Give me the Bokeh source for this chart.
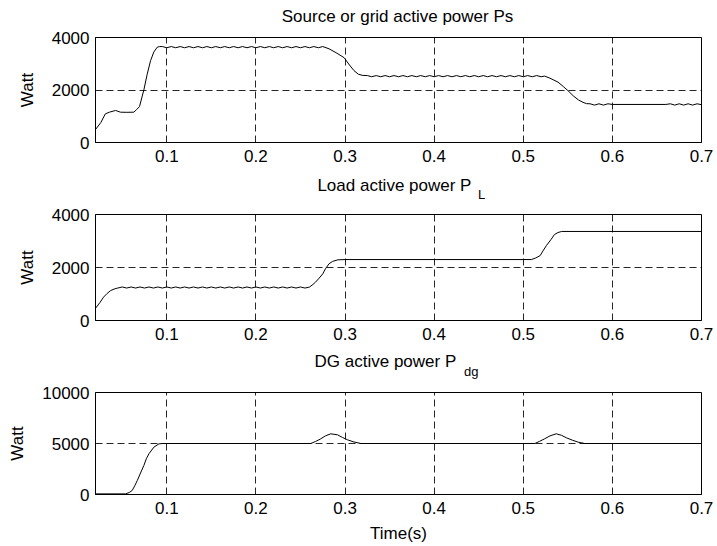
from bokeh.plotting import figure
from bokeh.layouts import column
from bokeh.models import Label, Range1d, FixedTicker
from bokeh.embed import file_html
from bokeh.resources import INLINE

# ---------------- data ----------------
x_ticks = [0.1, 0.2, 0.3, 0.4, 0.5, 0.6, 0.7]

ps_time = [0.020, 0.026, 0.031, 0.036, 0.0425, 0.048, 0.055, 0.063, 0.066, 0.0694, 0.0743, 0.078, 0.0818, 0.0855, 0.0893, 0.092,
           0.095, 0.100, 0.105, 0.110, 0.115, 0.120, 0.125, 0.130, 0.135, 0.140,
           0.145, 0.150, 0.155, 0.160, 0.165, 0.170, 0.175, 0.180, 0.185, 0.190,
           0.195, 0.200, 0.205, 0.210, 0.215, 0.220, 0.225, 0.230, 0.235, 0.240,
           0.245, 0.250, 0.255, 0.260, 0.265, 0.270, 0.275,
           0.282, 0.290, 0.299, 0.305, 0.310, 0.315, 0.320,
           0.325, 0.330, 0.335, 0.340, 0.345, 0.350, 0.355, 0.360, 0.365, 0.370,
           0.375, 0.380, 0.385, 0.390, 0.395, 0.400, 0.405, 0.410, 0.415, 0.420,
           0.425, 0.430, 0.435, 0.440, 0.445, 0.450, 0.455, 0.460, 0.465, 0.470,
           0.475, 0.480, 0.485, 0.490, 0.495, 0.500, 0.505, 0.510, 0.515, 0.520,
           0.524, 0.530, 0.539, 0.545, 0.550, 0.556, 0.562, 0.567, 0.571,
           0.575, 0.580, 0.585, 0.590, 0.595, 0.600,
           0.660,
           0.665, 0.670, 0.675, 0.680, 0.685, 0.690, 0.695, 0.700]
ps_watt = [495, 760, 1090, 1160, 1220, 1155, 1150, 1155, 1250, 1370, 2010, 2600, 3120, 3450, 3630, 3655,
           3655, 3610, 3655, 3610, 3655, 3610, 3655, 3610, 3655, 3610,
           3655, 3610, 3655, 3610, 3655, 3610, 3655, 3610, 3655, 3610,
           3655, 3610, 3655, 3610, 3655, 3610, 3655, 3610, 3655, 3610,
           3655, 3610, 3655, 3610, 3655, 3610, 3655,
           3570, 3420, 3230, 2950, 2740, 2600, 2555,
           2550, 2505, 2550, 2505, 2550, 2505, 2550, 2505, 2550, 2505,
           2550, 2505, 2550, 2505, 2550, 2505, 2550, 2505, 2550, 2505,
           2550, 2505, 2550, 2505, 2550, 2505, 2550, 2505, 2550, 2505,
           2550, 2505, 2550, 2505, 2550, 2505, 2550, 2505, 2550, 2505,
           2530, 2450, 2300, 2130, 1980, 1780, 1620, 1530, 1480,
           1475, 1425, 1475, 1425, 1475, 1450,
           1450,
           1475, 1425, 1475, 1425, 1475, 1425, 1475, 1440]

pl_time = [0.020, 0.025, 0.029, 0.033, 0.037, 0.042,
           0.045, 0.050, 0.055, 0.060, 0.065, 0.070, 0.075, 0.080, 0.085, 0.090,
           0.095, 0.100, 0.105, 0.110, 0.115, 0.120, 0.125, 0.130, 0.135, 0.140,
           0.145, 0.150, 0.155, 0.160, 0.165, 0.170, 0.175, 0.180, 0.185, 0.190,
           0.195, 0.200, 0.205, 0.210, 0.215, 0.220, 0.225, 0.230, 0.235, 0.240,
           0.245, 0.250, 0.255,
           0.260, 0.264, 0.267, 0.271, 0.275, 0.278, 0.282, 0.286, 0.292, 0.300,
           0.509, 0.514, 0.519, 0.522, 0.526, 0.531, 0.535, 0.539, 0.543, 0.700]
pl_watt = [460, 680, 880, 1020, 1130, 1200,
           1225, 1265, 1225, 1265, 1225, 1265, 1225, 1265, 1225, 1265,
           1225, 1265, 1225, 1265, 1225, 1265, 1225, 1265, 1225, 1265,
           1225, 1265, 1225, 1265, 1225, 1265, 1225, 1265, 1225, 1265,
           1225, 1265, 1225, 1265, 1225, 1265, 1225, 1265, 1225, 1265,
           1225, 1265, 1225,
           1260, 1360, 1450, 1600, 1760, 1950, 2140, 2230, 2290, 2300,
           2300, 2360, 2450, 2620, 2830, 3050, 3245, 3320, 3360, 3360]

pdg_time = [0.020, 0.0537, 0.058, 0.0612, 0.064, 0.0669, 0.071, 0.0743, 0.077, 0.080, 0.0855, 0.0911, 0.095,
            0.2616, 0.267, 0.2728, 0.278, 0.284, 0.2916, 0.297, 0.3028, 0.310, 0.3178,
            0.513, 0.518, 0.524, 0.530, 0.537, 0.543, 0.5484, 0.555, 0.5616, 0.569, 0.700]
pdg_watt = [60, 60, 200, 400, 850, 1370, 2200, 2850, 3500, 4000, 4640, 4960, 5000,
            5000, 5200, 5460, 5750, 5950, 5850, 5600, 5360, 5150, 5000,
            5000, 5200, 5460, 5750, 5950, 5800, 5560, 5330, 5130, 5000, 5000]

FONT = "Liberation Sans"
FS = "17px"
X0, X1 = 0.02, 0.7
W = 717
BL, BR = 95, 16


def make_panel(time, watt, ymax, yticks, height, top, bottom):
    p = figure(width=W, height=height, output_backend="svg", toolbar_location=None,
               x_range=Range1d(X0, X1), y_range=Range1d(0, ymax),
               min_border_left=BL, min_border_right=BR,
               min_border_top=top, min_border_bottom=bottom)
    p.line(time, watt, line_color="black", line_width=1)
    p.xaxis.ticker = FixedTicker(ticks=x_ticks)
    p.yaxis.ticker = FixedTicker(ticks=yticks)
    for ax in (p.xaxis[0], p.yaxis[0]):
        ax.major_tick_in = 0
        ax.major_tick_out = 0
        ax.minor_tick_line_color = None
        ax.axis_line_color = "black"
        ax.major_label_text_font = FONT
        ax.major_label_text_font_size = FS
        ax.major_label_text_color = "black"
        ax.axis_label_text_font = FONT
        ax.axis_label_text_font_size = FS
        ax.axis_label_text_font_style = "normal"
        ax.axis_label_text_color = "black"
    p.xaxis.major_label_standoff = 7
    p.yaxis.major_label_standoff = 6
    p.yaxis.axis_label = "Watt"
    p.yaxis.axis_label_standoff = 12
    for g in (p.xgrid[0], p.ygrid[0]):
        g.grid_line_color = "black"
        g.grid_line_dash = "7 4"
        g.grid_line_alpha = 0.85
    p.outline_line_color = "black"
    p.outline_line_alpha = 1
    p.background_fill_color = "white"
    p.border_fill_color = "white"
    return p


def title_strip(height, text, xc, ymain, sub=None, xs=None, ysub=None):
    t = figure(width=W, height=height, output_backend="svg", toolbar_location=None,
               x_range=Range1d(X0, X1), y_range=Range1d(0, height),
               x_axis_type=None, y_axis_type=None,
               min_border_left=BL, min_border_right=BR, min_border_top=0, min_border_bottom=0)
    t.xgrid.visible = False
    t.ygrid.visible = False
    t.outline_line_color = None
    t.background_fill_color = "white"
    t.border_fill_color = "white"
    t.add_layout(Label(x=xc, y=ymain, text=text, text_align="center",
                       text_baseline="alphabetic", text_font=FONT, text_font_size=FS,
                       text_color="black"))
    if sub:
        t.add_layout(Label(x=xs, y=ysub, text=sub, text_align="left",
                           text_baseline="alphabetic", text_font=FONT, text_font_size="13px",
                           text_color="black"))
    return t


t1 = title_strip(29, "Source or grid active power Ps", 0.3589, 13)
p1 = make_panel(ps_time, ps_watt, 4000, [0, 2000, 4000], 141, 8, 28)

t2 = title_strip(36, "Load active power P", 0.3554, 21, "L", 0.4492, 12)
p2 = make_panel(pl_time, pl_watt, 4000, [0, 2000, 4000], 142, 8, 28)

t3 = title_strip(36, "DG active power P", 0.3453, 23, "dg", 0.4335, 13)
p3 = make_panel(pdg_time, pdg_watt, 10000, [0, 5000, 10000], 162, 8, 52)
p3.xaxis.axis_label = "Time(s)"
p3.xaxis.axis_label_standoff = 7

layout = column(t1, p1, t2, p2, t3, p3, spacing=0)
open("out.html", "w").write(file_html(layout, INLINE))
